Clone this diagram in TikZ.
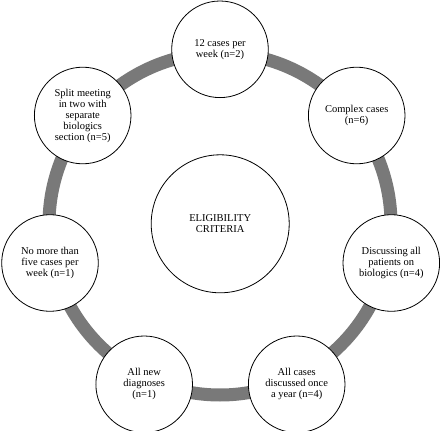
\documentclass[tikz,border=0pt]{standalone}
\usepackage{fontspec}
\setmainfont{Liberation Serif}
\begin{document}
\begin{tikzpicture}[x=1pt,y=-1pt,
  item/.style={circle,draw=black,line width=0.8pt,fill=white,minimum size=96.6pt,inner sep=0pt,align=center,font=\fontsize{10.5}{11}\selectfont},
  hub/.style={circle,draw=black,line width=0.8pt,fill=white,minimum size=138pt,inner sep=0pt,align=center,font=\fontsize{10.5}{11}\selectfont},
  ringline/.style={draw=gray!95!black,line width=13pt}]
\useasboundingbox (0,0) rectangle (440,431);
\coordinate (o) at (220,224);
\draw[ringline] (o) circle[radius=171];
\node[hub] (hub) at (220.2,223.8) {ELIGIBILITY\\CRITERIA};
\node[item] (c0) at (220,49.3) {12 cases per\\week (n=2)};
\node[item] (c1) at (356.7,115.5) {Complex cases\\(n=6)};
\node[item] (c2) at (391.3,263) {Discussing all\\patients on\\biologics (n=4)};
\node[item] (c3) at (296.7,384.3) {All cases\\discussed once\\a year (n=4)};
\node[item] (c4) at (144.2,384.3) {All new\\diagnoses\\(n=1)};
\node[item] (c5) at (50,263) {No more than\\five cases per\\week (n=1)};
\node[item] (c6) at (82.7,115.5) {Split meeting\\in two with\\separate\\biologics\\section (n=5)};
\end{tikzpicture}
\end{document}
